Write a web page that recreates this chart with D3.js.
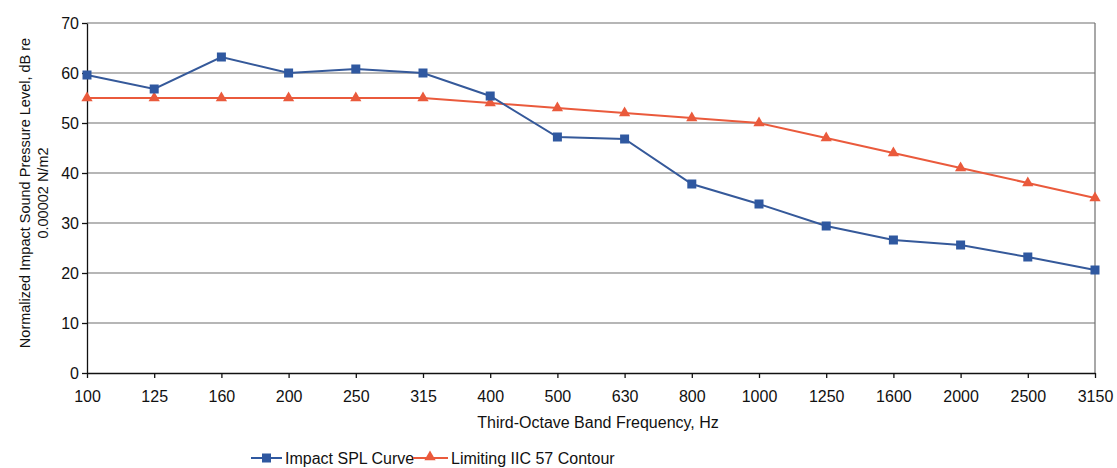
<!DOCTYPE html>
<html>
<head>
<meta charset="utf-8">
<script src="https://cdn.jsdelivr.net/npm/d3@7"></script>
<style>
  body { margin: 0; background: #fff; }
  svg { font-family: Arial, "Liberation Sans", sans-serif; }
</style>
</head>
<body>
<div id="chart"></div>
<script>
var freqs = ["100","125","160","200","250","315","400","500","630","800","1000","1250","1600","2000","2500","3150"]
var impactSPL = [59.6,56.8,63.2,60,60.8,60,55.4,47.2,46.8,37.8,33.8,29.4,26.6,25.6,23.2,20.6]
var iicContour = [55,55,55,55,55,55,54,53,52,51,50,47,44,41,38,35]
var yTicks = [0,10,20,30,40,50,60,70]

var width = 1117, height = 468
var margin = {top: 23, right: 22, bottom: 95, left: 87}

var svg = d3.select("#chart").append("svg")
	.attr("width", width)
	.attr("height", height)

var x = d3.scalePoint()
	.domain(freqs)
	.range([margin.left, width - margin.right])

var y = d3.scaleLinear()
	.domain([0, 70])
	.range([height - margin.bottom, margin.top])

// gridlines
svg.append("g")
	.selectAll("line")
	.data(yTicks.filter(d => d > 0))
	.join("line")
	.attr("x1", margin.left)
	.attr("x2", width - margin.right)
	.attr("y1", d => y(d))
	.attr("y2", d => y(d))
	.attr("stroke", "#6e6e6e")
	.attr("stroke-width", 1.2)

// right border
svg.append("line")
	.attr("x1", width - margin.right)
	.attr("x2", width - margin.right)
	.attr("y1", margin.top)
	.attr("y2", y(0))
	.attr("stroke", "#6e6e6e")
	.attr("stroke-width", 1.2)

var xAxis = svg.append("g")
	.attr("transform", `translate(0,${y(0)})`)
	.call(d3.axisBottom(x).tickSize(5).tickSizeOuter(0))
xAxis.selectAll("text").attr("font-size", 16).attr("fill", "#111").attr("dy", "1.3em")
xAxis.selectAll("line, path").attr("stroke", "#111").attr("stroke-width", 1.3)

var yAxis = svg.append("g")
	.attr("transform", `translate(${margin.left},0)`)
	.call(d3.axisLeft(y).tickValues(yTicks).tickSize(5).tickSizeOuter(0))
yAxis.selectAll("text").attr("font-size", 16).attr("fill", "#111")
yAxis.selectAll("line, path").attr("stroke", "#111").attr("stroke-width", 1.3)

// axis titles
svg.append("text")
	.attr("x", 598)
	.attr("y", 428)
	.attr("text-anchor", "middle")
	.attr("font-size", 16)
	.attr("fill", "#111")
	.text("Third-Octave Band Frequency, Hz")

var yTitle = svg.append("text")
	.attr("transform", "translate(30,193) rotate(-90)")
	.attr("text-anchor", "middle")
	.attr("font-size", 14.5)
	.attr("fill", "#111")
yTitle.append("tspan").attr("x", 0).attr("dy", 0).text("Normalized Impact Sound Pressure Level, dB re")
yTitle.append("tspan").attr("x", 0).attr("dy", "1.25em").text("0.00002 N/m2")

var blue = "#2f58a0", red = "#ea5a3c"

var line = d3.line()
	.x((d, i) => x(freqs[i]))
	.y(d => y(d))

svg.append("path")
	.datum(iicContour)
	.attr("fill", "none")
	.attr("stroke", red)
	.attr("stroke-width", 2)
	.attr("d", line)

svg.append("path")
	.datum(impactSPL)
	.attr("fill", "none")
	.attr("stroke", "#35599a")
	.attr("stroke-width", 2)
	.attr("d", line)

var tri = d3.symbol().type(d3.symbolTriangle).size(55)
svg.append("g")
	.selectAll("path")
	.data(iicContour)
	.join("path")
	.attr("transform", (d, i) => `translate(${x(freqs[i])},${y(d)})`)
	.attr("d", tri)
	.attr("fill", red)

svg.append("g")
	.selectAll("rect")
	.data(impactSPL)
	.join("rect")
	.attr("x", (d, i) => x(freqs[i]) - 4.5)
	.attr("y", d => y(d) - 4.5)
	.attr("width", 9)
	.attr("height", 9)
	.attr("fill", blue)

// legend
var legend = svg.append("g").attr("transform", "translate(251,458)")
legend.append("line").attr("x1", 0).attr("x2", 31).attr("stroke", blue).attr("stroke-width", 2)
legend.append("rect").attr("x", 11).attr("y", -4.5).attr("width", 9).attr("height", 9).attr("fill", blue)
legend.append("text").attr("x", 34).attr("y", 5.5).attr("font-size", 16).attr("fill", "#111").text("Impact SPL Curve")
legend.append("line").attr("x1", 162).attr("x2", 197).attr("stroke", red).attr("stroke-width", 2)
legend.append("path").attr("transform", "translate(179,-1)").attr("d", tri).attr("fill", red)
legend.append("text").attr("x", 200).attr("y", 5.5).attr("font-size", 16).attr("fill", "#111").text("Limiting IIC 57 Contour")
</script>
</body>
</html>
